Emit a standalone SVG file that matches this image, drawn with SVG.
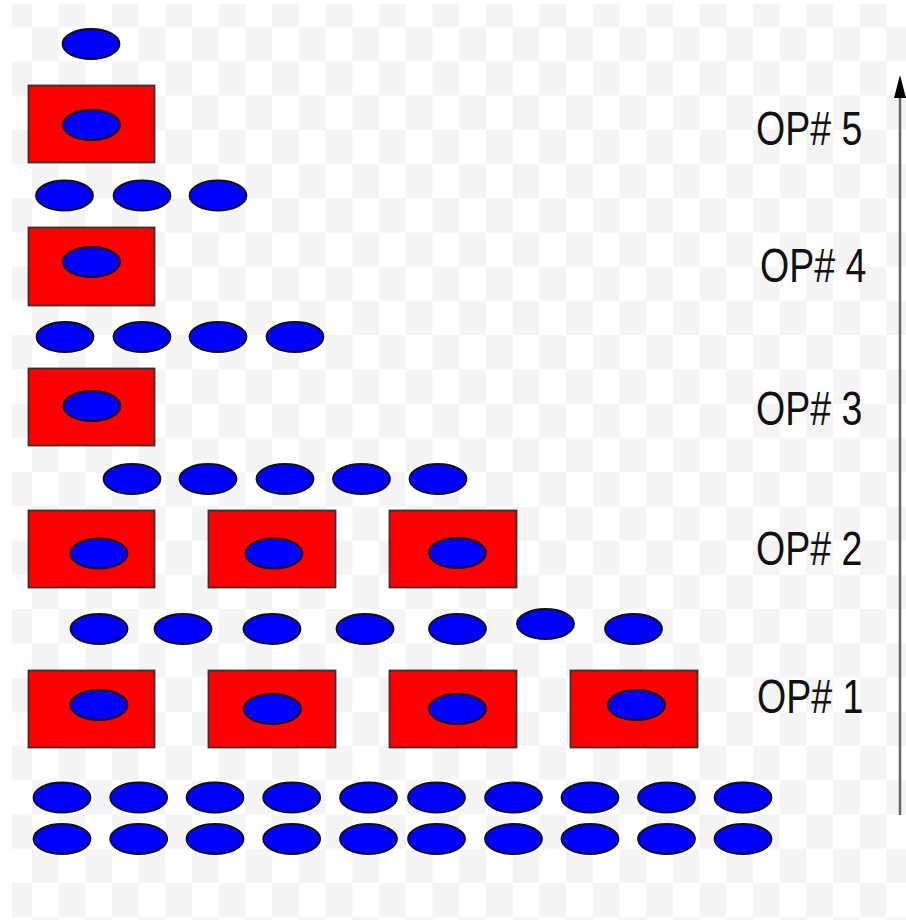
<svg xmlns="http://www.w3.org/2000/svg" width="906" height="921" viewBox="0 0 906 921">
<defs>
<pattern id="checker" patternUnits="userSpaceOnUse" x="5.3" y="-7.24" width="53.4" height="68.48">
<rect x="0" y="0" width="53.4" height="68.48" fill="#ffffff"/>
<rect x="0" y="0" width="26.7" height="34.24" fill="#f4f4f4"/>
<rect x="26.7" y="34.24" width="26.7" height="34.24" fill="#f4f4f4"/>
</pattern>
</defs>
<style>
.item{fill:#0000ff;stroke:#111;stroke-width:1.8}
.op{fill:#ff0000;stroke:#333;stroke-width:1.8}
.lbl{font-family:"Liberation Sans",Arial,sans-serif;font-size:37.5px;fill:#111}
</style>
<rect x="0" y="0" width="906" height="921" fill="#ffffff"/>
<rect x="12" y="4" width="894" height="916" fill="url(#checker)"/>

<g id="connectors">
<line x1="900" y1="815" x2="900" y2="87" stroke="#666" stroke-width="2.5"/>
<path d="M900,75 L906,98 L894,98 Z" fill="#000"/>
</g>

<g id="level6">
<ellipse class="item" cx="91" cy="44" rx="28.5" ry="15"/>
</g>

<g id="op5">
<rect class="op" x="28.5" y="85.5" width="126" height="77"/>
<ellipse class="item" cx="91.5" cy="125" rx="28.5" ry="15"/>
</g>

<g id="level5">
<ellipse class="item" cx="64.5" cy="195.5" rx="28.5" ry="15"/>
<ellipse class="item" cx="142" cy="195.5" rx="28.5" ry="15"/>
<ellipse class="item" cx="218" cy="195.5" rx="28.5" ry="15"/>
</g>

<g id="op4">
<rect class="op" x="28.5" y="227.5" width="126" height="78"/>
<ellipse class="item" cx="91.5" cy="262" rx="28.5" ry="15"/>
</g>

<g id="level4">
<ellipse class="item" cx="65" cy="337" rx="28.5" ry="15"/>
<ellipse class="item" cx="142" cy="337" rx="28.5" ry="15"/>
<ellipse class="item" cx="218" cy="337" rx="28.5" ry="15"/>
<ellipse class="item" cx="295" cy="337" rx="28.5" ry="15"/>
</g>

<g id="op3">
<rect class="op" x="28.5" y="368.5" width="126" height="77"/>
<ellipse class="item" cx="92" cy="406" rx="28.5" ry="15"/>
</g>

<g id="level3">
<ellipse class="item" cx="132" cy="479" rx="28.5" ry="15"/>
<ellipse class="item" cx="208" cy="479" rx="28.5" ry="15"/>
<ellipse class="item" cx="285" cy="479" rx="28.5" ry="15"/>
<ellipse class="item" cx="361.5" cy="479" rx="28.5" ry="15"/>
<ellipse class="item" cx="438" cy="479" rx="28.5" ry="15"/>
</g>

<g id="op2">
<rect class="op" x="28.5" y="510.5" width="126" height="77"/>
<ellipse class="item" cx="99" cy="553.5" rx="28.5" ry="15"/>
<rect class="op" x="208.5" y="510.5" width="127" height="77"/>
<ellipse class="item" cx="274" cy="553.5" rx="28.5" ry="15"/>
<rect class="op" x="389.5" y="510.5" width="127" height="77"/>
<ellipse class="item" cx="457.5" cy="553" rx="28.5" ry="15"/>
</g>

<g id="level2">
<ellipse class="item" cx="99" cy="629" rx="28.5" ry="15"/>
<ellipse class="item" cx="183" cy="629" rx="28.5" ry="15"/>
<ellipse class="item" cx="272" cy="629" rx="28.5" ry="15"/>
<ellipse class="item" cx="365" cy="629" rx="28.5" ry="15"/>
<ellipse class="item" cx="457.5" cy="629" rx="28.5" ry="15"/>
<ellipse class="item" cx="545.5" cy="624" rx="28.5" ry="15"/>
<ellipse class="item" cx="633.5" cy="629" rx="28.5" ry="15"/>
</g>

<g id="op1">
<rect class="op" x="28.5" y="670.5" width="126" height="77"/>
<ellipse class="item" cx="99" cy="705" rx="28.5" ry="15"/>
<rect class="op" x="208.5" y="670.5" width="127" height="77"/>
<ellipse class="item" cx="272.5" cy="709" rx="28.5" ry="15"/>
<rect class="op" x="389.5" y="670.5" width="127" height="77"/>
<ellipse class="item" cx="457.5" cy="709" rx="28.5" ry="15"/>
<rect class="op" x="570.5" y="670.5" width="127" height="77"/>
<ellipse class="item" cx="636.5" cy="705" rx="28.5" ry="15"/>
</g>

<g id="level1">
<ellipse class="item" cx="62" cy="797.5" rx="28.5" ry="15"/>
<ellipse class="item" cx="138.7" cy="797.5" rx="28.5" ry="15"/>
<ellipse class="item" cx="215" cy="797.5" rx="28.5" ry="15"/>
<ellipse class="item" cx="291.7" cy="797.5" rx="28.5" ry="15"/>
<ellipse class="item" cx="368.5" cy="797.5" rx="28.5" ry="15"/>
<ellipse class="item" cx="436.5" cy="797.5" rx="28.5" ry="15"/>
<ellipse class="item" cx="513.5" cy="797.5" rx="28.5" ry="15"/>
<ellipse class="item" cx="590" cy="797.5" rx="28.5" ry="15"/>
<ellipse class="item" cx="666.5" cy="797.5" rx="28.5" ry="15"/>
<ellipse class="item" cx="743" cy="797.5" rx="28.5" ry="15"/>
<ellipse class="item" cx="62" cy="839" rx="28.5" ry="15"/>
<ellipse class="item" cx="138.7" cy="839" rx="28.5" ry="15"/>
<ellipse class="item" cx="215" cy="839" rx="28.5" ry="15"/>
<ellipse class="item" cx="291.7" cy="839" rx="28.5" ry="15"/>
<ellipse class="item" cx="368.5" cy="839" rx="28.5" ry="15"/>
<ellipse class="item" cx="436.5" cy="839" rx="28.5" ry="15"/>
<ellipse class="item" cx="513.5" cy="839" rx="28.5" ry="15"/>
<ellipse class="item" cx="590" cy="839" rx="28.5" ry="15"/>
<ellipse class="item" cx="666.5" cy="839" rx="28.5" ry="15"/>
<ellipse class="item" cx="743" cy="839" rx="28.5" ry="15"/>
</g>

<g id="labels">
<text class="lbl" transform="translate(756,145) scale(1,1.3)">OP# 5</text>
<text class="lbl" transform="translate(760,282) scale(1,1.3)">OP# 4</text>
<text class="lbl" transform="translate(756,425) scale(1,1.3)">OP# 3</text>
<text class="lbl" transform="translate(756,565) scale(1,1.3)">OP# 2</text>
<text class="lbl" transform="translate(757,713) scale(1,1.3)">OP# 1</text>
</g>
</svg>
